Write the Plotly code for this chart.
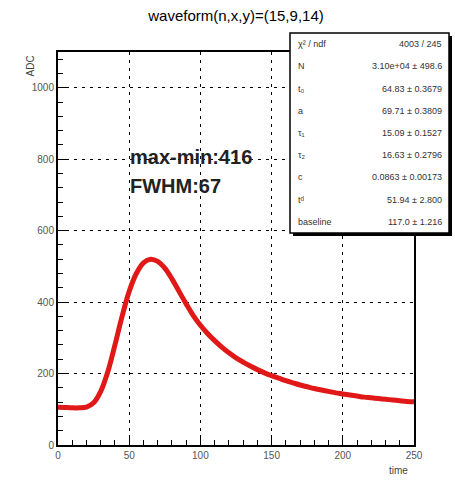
import plotly.graph_objects as go

# Sampled waveform (time in ns, amplitude in ADC counts)
time = list(range(0, 255, 5))
adc = [106, 105, 104, 104, 106, 118, 150, 205, 280, 360,
       430, 480, 510, 520, 514, 495, 465, 430, 395, 362,
       335, 312, 292, 274, 258, 244, 232, 221, 211, 202,
       194, 187, 180, 174, 168, 163, 158, 154, 150, 146,
       143, 140, 137, 134, 132, 130, 128, 126, 124, 122, 121]

fwhm = 67

stat_names = ["χ\u00b2 / ndf", "N", "t\u2080", "a", "τ\u2081", "τ\u2082", "c", "t\u1d48", "baseline"]
stat_values = ["4003 / 245", "3.10e+04 ± 498.6", "64.83 ± 0.3679", "69.71 ± 0.3809",
               "15.09 ± 0.1527", "16.63 ± 0.2796", "0.0863 ± 0.00173",
               "51.94 ± 2.800", "117.0 ± 1.216"]

fig = go.Figure()
fig.add_trace(go.Scatter(x=time, y=adc, mode="lines", line=dict(color="#e01818", width=5, shape="spline"),
                         showlegend=False))

W, H = 455, 480
L, R, T, B = 58, 41, 52, 35
pw, ph = W - L - R, H - T - B

def px(xp):
    return (xp - L) / pw

def py(yp):
    return (H - B - yp) / ph

font = "Liberation Sans, Arial, sans-serif"
grid = dict(showgrid=True, gridcolor="black", gridwidth=1, griddash="3px,5px")

fig.update_layout(
    width=W, height=H,
    margin=dict(l=L, r=R, t=T, b=B),
    paper_bgcolor="white", plot_bgcolor="white",
    font=dict(family=font, color="#222"),
    title=dict(text="waveform(n,x,y)=(15,9,14)", x=236 / W, xanchor="center", y=1 - 16 / H,
               yanchor="middle", font=dict(size=15, color="black")),
    xaxis=dict(range=[0, 250], dtick=50, tick0=0, ticks="inside", ticklen=10, tickwidth=1,
               tickcolor="black", showline=True, linecolor="black", linewidth=2, mirror=True,
               zeroline=False, tickfont=dict(size=10, color="#555"),
               minor=dict(dtick=10, ticks="inside", ticklen=5, tickcolor="black", showgrid=False),
               **grid),
    yaxis=dict(range=[0, 1100], dtick=200, tick0=0, ticks="inside", ticklen=10, tickwidth=1,
               tickcolor="black", showline=True, linecolor="black", linewidth=2, mirror=True,
               zeroline=False, tickfont=dict(size=10, color="#555"),
               minor=dict(dtick=40, ticks="inside", ticklen=5, tickcolor="black", showgrid=False),
               **grid),
)

# Axis titles, ROOT-like placement
fig.add_annotation(text="time", xref="paper", yref="paper", x=px(410), y=py(470),
                   xanchor="right", yanchor="middle", showarrow=False, font=dict(size=10, color="#444"))
fig.add_annotation(text="ADC", xref="paper", yref="paper", x=px(30), y=py(54),
                   xanchor="center", yanchor="top", textangle=-90, showarrow=False,
                   font=dict(size=10, color="#444"))

# Summary text
fig.add_annotation(text=f"<b>max-min:{max(adc) - min(adc)}</b>", x=49, y=806, xanchor="left",
                   yanchor="middle", showarrow=False, font=dict(size=20, color="#222"))
fig.add_annotation(text=f"<b>FWHM:{fwhm}</b>", x=49, y=724, xanchor="left", yanchor="middle",
                   showarrow=False, font=dict(size=20, color="#222"))

# Fit statistics box with shadow
bx0, bx1, by0, by1 = 290, 449, 33, 233
fig.add_shape(type="rect", xref="paper", yref="paper", x0=px(bx0 + 3), x1=px(bx1 + 3),
              y0=py(by1 + 3), y1=py(by0 + 3), line=dict(width=0), fillcolor="black", layer="above")
fig.add_shape(type="rect", xref="paper", yref="paper", x0=px(bx0), x1=px(bx1),
              y0=py(by1), y1=py(by0), line=dict(color="black", width=1.5), fillcolor="white", layer="above")
row_h = (by1 - by0) / len(stat_names)
for i, (n, v) in enumerate(zip(stat_names, stat_values)):
    yc = by0 + row_h * (i + 0.5)
    fig.add_annotation(text=n, xref="paper", yref="paper", x=px(bx0 + 6), y=py(yc),
                       xanchor="left", yanchor="middle", showarrow=False,
                       font=dict(size=9, color="#333"))
    fig.add_annotation(text=v, xref="paper", yref="paper", x=px(bx1 - 5), y=py(yc),
                       xanchor="right", yanchor="middle", showarrow=False,
                       font=dict(size=9, color="#333"))

fig.write_html("out.html")
